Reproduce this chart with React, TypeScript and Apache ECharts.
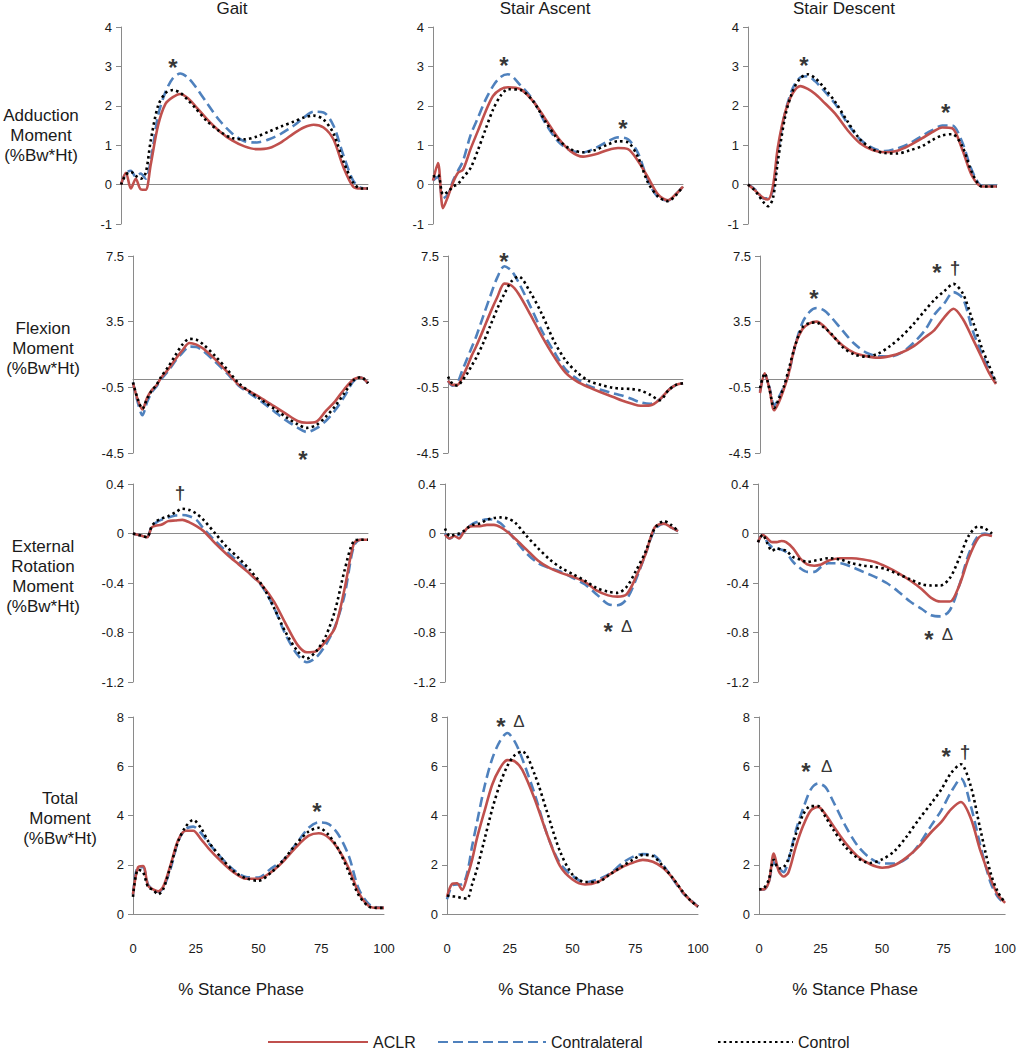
import React, { useEffect, useRef } from "react";
import * as echarts from "echarts";

// ---------- DATA ----------
const X = [0, 2, 4, 6, 8, 10, 12, 15, 18, 21, 24, 27, 30, 35, 40, 45, 50, 55, 60, 65, 70, 74, 78, 82, 86, 90, 94, 97, 100];

const TASKS = ["Gait", "Stair Ascent", "Stair Descent"];
const MOMENTS = ["Adduction\nMoment\n(%Bw*Ht)", "Flexion\nMoment\n(%Bw*Ht)", "External\nRotation\nMoment\n(%Bw*Ht)", "Total\nMoment\n(%Bw*Ht)"];
const SERIES_NAMES = ["ACLR", "Contralateral", "Control"];
const X_LABEL = "% Stance Phase";
const X_TICKS = [0, 25, 50, 75, 100];
const Y_TICKS = [
  [-1, 0, 1, 2, 3, 4],
  [-4.5, -0.5, 3.5, 7.5],
  [-1.2, -0.8, -0.4, 0, 0.4],
  [0, 2, 4, 6, 8],
];
const Y_MIN = [-1, -4.5, -1.2, 0];
const Y_MAX = [4, 7.5, 0.4, 8];

// Adduction moment
const addGaitACLR = [0, 0.3, -0.1, 0.15, -0.12, -0.13, 0.5, 1.5, 2.05, 2.22, 2.3, 2.2, 2.0, 1.65, 1.35, 1.12, 0.97, 0.9, 0.93, 1.08, 1.3, 1.45, 1.52, 1.45, 1.15, 0.45, -0.05, -0.1, -0.1];
const addGaitContra = [0, 0.3, 0.35, 0.2, 0.28, 0.15, 0.6, 1.75, 2.35, 2.7, 2.82, 2.72, 2.5, 2.05, 1.62, 1.3, 1.1, 1.07, 1.15, 1.3, 1.5, 1.7, 1.85, 1.83, 1.5, 0.75, 0.1, -0.08, -0.1];
const addGaitControl = [0, 0.25, 0.32, 0.22, 0.15, 0.3, 1.1, 2.0, 2.32, 2.4, 2.33, 2.15, 1.95, 1.6, 1.35, 1.18, 1.15, 1.22, 1.35, 1.48, 1.6, 1.7, 1.75, 1.65, 1.3, 0.6, 0.05, -0.1, -0.1];
const addAscACLR = [0.1, 0.55, -0.6, -0.3, 0.05, 0.3, 0.38, 0.9, 1.37, 1.85, 2.25, 2.42, 2.47, 2.42, 2.12, 1.66, 1.19, 0.85, 0.71, 0.77, 0.88, 0.93, 0.9, 0.6, 0.18, -0.25, -0.4, -0.25, -0.05];
const addAscContra = [0.1, 0.2, -0.35, -0.25, 0.1, 0.35, 0.6, 1.25, 1.7, 2.15, 2.5, 2.73, 2.8, 2.52, 2.15, 1.55, 1.1, 0.87, 0.82, 0.93, 1.1, 1.2, 1.15, 0.8, 0.1, -0.32, -0.4, -0.25, -0.05];
const addAscControl = [0.2, 0.25, -0.25, -0.18, -0.05, 0.02, 0.18, 0.42, 0.88, 1.4, 1.9, 2.25, 2.42, 2.4, 2.12, 1.6, 1.15, 0.9, 0.82, 0.88, 1.02, 1.1, 1.07, 0.7, 0.05, -0.3, -0.42, -0.28, -0.05];
const addDescACLR = [0, -0.1, -0.22, -0.33, -0.38, -0.05, 0.95, 1.85, 2.32, 2.5, 2.43, 2.3, 2.12, 1.8, 1.38, 1.05, 0.88, 0.82, 0.86, 1.0, 1.18, 1.33, 1.45, 1.43, 0.9, 0.22, -0.05, -0.05, -0.05];
const addDescContra = [0, -0.08, -0.2, -0.35, -0.35, -0.15, 0.85, 1.85, 2.45, 2.72, 2.75, 2.62, 2.42, 2.05, 1.55, 1.15, 0.93, 0.85, 0.92, 1.05, 1.24, 1.38, 1.5, 1.5, 1.08, 0.35, -0.03, -0.03, -0.03];
const addDescControl = [0, -0.1, -0.25, -0.43, -0.55, -0.35, 0.6, 1.75, 2.38, 2.7, 2.8, 2.7, 2.5, 2.1, 1.6, 1.15, 0.9, 0.8, 0.79, 0.87, 0.98, 1.13, 1.25, 1.28, 0.98, 0.3, -0.05, -0.05, -0.05];

// Flexion moment
const flxGaitACLR = [-0.25, -1.24, -1.85, -1.14, -0.67, -0.37, 0.08, 0.6, 1.2, 1.75, 2.2, 2.1, 1.85, 1.2, 0.45, -0.35, -0.77, -1.2, -1.65, -2.1, -2.55, -2.66, -2.6, -1.95, -1.35, -0.6, 0.0, 0.1, -0.25];
const flxGaitContra = [-0.2, -1.4, -2.2, -1.4, -0.8, -0.45, 0.0, 0.5, 1.1, 1.6, 1.98, 1.95, 1.7, 1.05, 0.35, -0.4, -0.9, -1.4, -1.95, -2.5, -2.95, -3.22, -3.0, -2.55, -1.9, -1.05, -0.1, 0.1, -0.25];
const flxGaitControl = [-0.2, -1.2, -1.8, -1.2, -0.7, -0.35, 0.15, 0.75, 1.45, 2.1, 2.45, 2.4, 2.1, 1.4, 0.6, -0.25, -0.8, -1.3, -1.8, -2.3, -2.75, -2.97, -2.8, -2.3, -1.65, -0.85, -0.05, 0.12, -0.25];
const flxAscACLR = [-0.1, -0.35, -0.35, 0.1, 0.7, 1.4, 2.0, 3.0, 4.05, 5.0, 5.82, 5.7, 5.2, 3.95, 2.6, 1.4, 0.4, -0.15, -0.5, -0.8, -1.07, -1.3, -1.48, -1.62, -1.6, -1.25, -0.65, -0.35, -0.25];
const flxAscContra = [-0.1, -0.4, -0.22, 0.5, 1.2, 1.9, 2.6, 3.84, 5.06, 6.2, 6.88, 6.6, 5.9, 4.45, 2.93, 1.7, 0.6, 0.0, -0.42, -0.65, -0.85, -1.0, -1.2, -1.42, -1.5, -1.25, -0.65, -0.35, -0.25];
const flxAscControl = [0.15, -0.3, -0.4, -0.1, 0.3, 0.8, 1.3, 2.2, 3.25, 4.3, 5.2, 5.95, 6.25, 5.3, 3.95, 2.35, 1.15, 0.4, -0.12, -0.35, -0.52, -0.58, -0.6, -0.7, -0.95, -1.28, -0.65, -0.35, -0.25];
const flxDescACLR = [-0.85, 0.35, -0.6, -1.9, -1.4, -0.65, 0.25, 2.1, 3.05, 3.4, 3.5, 3.23, 2.75, 2.05, 1.6, 1.4, 1.3, 1.4, 1.62, 2.0, 2.55, 3.0, 3.75, 4.29, 3.65, 2.5, 1.3, 0.4, -0.3];
const flxDescContra = [-0.75, 0.3, -0.5, -1.6, -1.1, -0.5, 0.25, 2.1, 3.45, 4.1, 4.33, 4.2, 3.8, 2.95, 2.15, 1.62, 1.4, 1.38, 1.62, 2.2, 3.0, 3.95, 4.6, 5.3, 4.9, 3.0, 1.55, 0.6, -0.3];
const flxDescControl = [-0.55, 0.35, -0.6, -1.75, -1.2, -0.5, 0.5, 2.1, 3.15, 3.42, 3.45, 3.15, 2.8, 1.95, 1.5, 1.37, 1.55, 2.0, 2.6, 3.35, 4.2, 4.85, 5.35, 5.8, 5.2, 3.6, 1.9, 0.85, -0.2];

// External rotation moment
const rotGaitACLR = [0, -0.01, -0.02, -0.03, 0.05, 0.065, 0.07, 0.1, 0.105, 0.11, 0.09, 0.06, 0.02, -0.08, -0.17, -0.25, -0.33, -0.42, -0.55, -0.73, -0.9, -0.96, -0.95, -0.87, -0.76, -0.45, -0.08, -0.05, -0.05];
const rotGaitContra = [0, -0.01, -0.02, -0.03, 0.06, 0.09, 0.11, 0.13, 0.145, 0.15, 0.14, 0.11, 0.04, -0.06, -0.15, -0.23, -0.33, -0.43, -0.6, -0.82, -0.98, -1.04, -1.0, -0.9, -0.75, -0.5, -0.1, -0.05, -0.05];
const rotGaitControl = [0, -0.01, -0.02, -0.03, 0.06, 0.1, 0.12, 0.14, 0.17, 0.2, 0.19, 0.16, 0.11, 0.0, -0.11, -0.2, -0.3, -0.42, -0.6, -0.8, -0.95, -1.01, -0.95, -0.83, -0.62, -0.3, -0.06, -0.05, -0.05];
const rotAscACLR = [-0.01, -0.04, -0.02, -0.04, 0.01, 0.05, 0.06, 0.06, 0.07, 0.07, 0.05, 0.01, -0.04, -0.13, -0.22, -0.28, -0.32, -0.35, -0.39, -0.46, -0.5, -0.51, -0.49, -0.35, -0.17, 0.05, 0.08, 0.05, 0.02];
const rotAscContra = [0, -0.04, -0.02, -0.01, 0.01, 0.05, 0.08, 0.1, 0.115, 0.11, 0.08, 0.02, -0.05, -0.16, -0.24, -0.28, -0.31, -0.36, -0.41, -0.49, -0.57, -0.58, -0.53, -0.37, -0.17, 0.03, 0.08, 0.05, 0.02];
const rotAscControl = [0.04, -0.02, -0.01, 0.0, 0.02, 0.05, 0.07, 0.08, 0.11, 0.125, 0.13, 0.12, 0.09, -0.02, -0.12, -0.21, -0.28, -0.33, -0.38, -0.44, -0.47, -0.48, -0.43, -0.3, -0.15, 0.04, 0.1, 0.07, 0.02];
const rotDescACLR = [-0.07, -0.01, -0.04, -0.07, -0.07, -0.06, -0.07, -0.12, -0.2, -0.25, -0.26, -0.25, -0.22, -0.2, -0.2, -0.21, -0.23, -0.27, -0.32, -0.38, -0.45, -0.52, -0.55, -0.55, -0.42, -0.2, -0.04, -0.01, -0.02];
const rotDescContra = [-0.07, -0.01, -0.07, -0.11, -0.12, -0.13, -0.15, -0.23, -0.28, -0.31, -0.31, -0.27, -0.24, -0.24, -0.27, -0.31, -0.35, -0.4, -0.47, -0.55, -0.61, -0.66, -0.67, -0.62, -0.42, -0.17, -0.02, 0.0, -0.02];
const rotDescControl = [-0.07, -0.01, -0.08, -0.14, -0.12, -0.13, -0.14, -0.19, -0.21, -0.23, -0.22, -0.21, -0.2, -0.21, -0.24, -0.26, -0.27, -0.29, -0.33, -0.37, -0.41, -0.42, -0.42, -0.36, -0.2, -0.02, 0.055, 0.04, 0.0];

// Total moment
const totGaitACLR = [0.8, 1.9, 1.95, 1.15, 1.0, 0.92, 1.1, 2.0, 3.0, 3.38, 3.38, 3.05, 2.68, 2.15, 1.7, 1.43, 1.43, 1.7, 2.15, 2.72, 3.18, 3.28, 3.1, 2.6, 1.85, 0.85, 0.32, 0.25, 0.25];
const totGaitContra = [0.8, 1.9, 1.9, 1.2, 1.0, 0.9, 1.05, 1.85, 2.95, 3.45, 3.55, 3.3, 2.9, 2.3, 1.8, 1.5, 1.48, 1.85, 2.2, 2.85, 3.5, 3.72, 3.65, 3.2, 2.35, 1.0, 0.4, 0.27, 0.25];
const totGaitControl = [0.7, 1.8, 1.7, 1.1, 0.98, 0.8, 1.0, 1.95, 2.95, 3.55, 3.82, 3.5, 2.95, 2.3, 1.75, 1.45, 1.35, 1.68, 2.2, 2.85, 3.35, 3.5, 3.2, 2.6, 1.7, 0.75, 0.3, 0.25, 0.25];
const totAscACLR = [0.7, 1.22, 1.25, 0.98, 1.5, 2.2, 3.1, 4.2, 5.25, 5.9, 6.25, 6.2, 5.85, 4.65, 3.2, 1.95, 1.4, 1.2, 1.3, 1.62, 1.92, 2.08, 2.2, 2.12, 1.88, 1.45, 0.88, 0.55, 0.3];
const totAscContra = [0.6, 1.15, 1.2, 1.2, 1.65, 2.75, 3.75, 5.2, 6.3, 7.0, 7.35, 7.0, 6.3, 4.85, 3.2, 2.06, 1.55, 1.28, 1.4, 1.65, 2.08, 2.32, 2.43, 2.4, 2.0, 1.42, 0.85, 0.58, 0.3];
const totAscControl = [0.75, 0.72, 0.7, 0.65, 0.62, 1.2, 1.85, 3.05, 4.25, 5.25, 6.0, 6.45, 6.6, 5.65, 4.1, 2.55, 1.6, 1.3, 1.3, 1.62, 1.95, 2.2, 2.4, 2.35, 1.95, 1.45, 0.9, 0.55, 0.3];
const totDescACLR = [1.0, 1.0, 1.3, 2.45, 1.75, 1.52, 1.7, 2.75, 3.6, 4.2, 4.35, 4.05, 3.6, 2.9, 2.35, 2.03, 1.88, 1.98, 2.3, 2.75, 3.33, 3.73, 4.25, 4.55, 3.9, 2.55, 1.45, 0.78, 0.45];
const totDescContra = [1.0, 1.0, 1.3, 2.1, 1.85, 1.7, 2.2, 3.4, 4.3, 5.05, 5.3, 5.15, 4.6, 3.6, 2.78, 2.28, 2.05, 2.05, 2.25, 2.82, 3.6, 4.2, 4.95, 5.5, 4.4, 2.75, 1.3, 0.7, 0.4];
const totDescControl = [1.0, 1.05, 1.4, 2.2, 1.85, 1.9, 2.25, 3.25, 4.05, 4.38, 4.38, 3.95, 3.45, 2.74, 2.28, 2.07, 2.22, 2.55, 3.15, 3.85, 4.5, 5.05, 5.72, 6.08, 5.2, 3.4, 1.7, 0.9, 0.45];

// Significance marks: [x, y, symbol]
const annAddGait = [[21, 3.1, "*"]];
const annAddAsc = [[28.4, 3.15, "*"], [76, 1.55, "*"]];
const annAddDesc = [[22.5, 3.15, "*"], [79.4, 1.95, "*"]];
const annFlxGait = [[72.3, -4.6, "*"]];
const annFlxAsc = [[23.8, 7.5, "*"]];
const annFlxDesc = [[22.9, 5.24, "*"], [75, 6.8, "*"], [82.6, 6.8, "†"]];
const annRotGait = [[20, 0.33, "†"]];
const annRotAsc = [[70, -0.75, "*"], [78, -0.75, "Δ"]];
const annRotDesc = [[73, -0.82, "*"], [81, -0.82, "Δ"]];
const annTotGait = [[73.3, 4.35, "*"]];
const annTotAsc = [[21.5, 7.8, "*"], [28.7, 7.8, "Δ"]];
const annTotDesc = [[19.1, 6.0, "*"], [27.5, 6.0, "Δ"], [76, 6.6, "*"], [83.7, 6.6, "†"]];

const PANEL_DATA = [
  [[addGaitACLR, addGaitContra, addGaitControl], [addAscACLR, addAscContra, addAscControl], [addDescACLR, addDescContra, addDescControl]],
  [[flxGaitACLR, flxGaitContra, flxGaitControl], [flxAscACLR, flxAscContra, flxAscControl], [flxDescACLR, flxDescContra, flxDescControl]],
  [[rotGaitACLR, rotGaitContra, rotGaitControl], [rotAscACLR, rotAscContra, rotAscControl], [rotDescACLR, rotDescContra, rotDescControl]],
  [[totGaitACLR, totGaitContra, totGaitControl], [totAscACLR, totAscContra, totAscControl], [totDescACLR, totDescContra, totDescControl]],
];
const PANEL_ANN = [
  [annAddGait, annAddAsc, annAddDesc],
  [annFlxGait, annFlxAsc, annFlxDesc],
  [annRotGait, annRotAsc, annRotDesc],
  [annTotGait, annTotAsc, annTotDesc],
];

// ---------- LAYOUT ----------
const ROW_TOP = [27, 256, 484, 717];
const ROW_HEIGHT = [197, 197, 198, 197];
const GRID_LEFT = [
  [121, 433, 748],
  [133, 448, 760],
  [133, 445, 758],
  [133, 447, 759],
];
const GRID_WIDTH = [
  [247, 250, 249],
  [235, 235, 236],
  [235, 233, 234],
  [251, 251, 251],
];
const TITLE_X = [232, 545, 844];
const XNAME_X = [241, 561, 855];
const ROWLABEL_POS = [
  [41, 135],
  [43, 348],
  [43, 576],
  [60, 818],
];
const LEGEND_LEFT = [262, 432, 712];
const LEGEND_ITEM_W = [100, 108, 75];

const FONT = '"Liberation Sans", Arial, Helvetica, sans-serif';
const AXIS_GRAY = "#8a8a8a";
const TEXT = "#1a1a1a";
const COLORS = ["#C0504D", "#4F81BD", "#000000"];
const LINE_STYLES: any[] = [
  { color: COLORS[0], width: 2.6, type: "solid" },
  { color: COLORS[1], width: 2.6, type: [10, 5] },
  { color: COLORS[2], width: 2.6, type: [2.5, 3.2] },
];
const DRAW_ORDER = [1, 0, 2];

function buildOption() {
  const grid: any[] = [];
  const xAxis: any[] = [];
  const yAxis: any[] = [];
  const series: any[] = [];
  let idx = 0;
  for (let r = 0; r < 4; r++) {
    for (let c = 0; c < 3; c++) {
      grid.push({ left: GRID_LEFT[r][c], top: ROW_TOP[r], width: GRID_WIDTH[r][c], height: ROW_HEIGHT[r], containLabel: false });
      xAxis.push({
        gridIndex: idx,
        type: "value",
        min: 0,
        max: 100,
        axisLine: { show: true, onZero: true, lineStyle: { color: AXIS_GRAY, width: 1 } },
        axisTick: { show: false },
        splitLine: { show: false },
        axisLabel:
          r === 3
            ? { show: true, customValues: X_TICKS, margin: 28, fontSize: 13, color: TEXT, fontFamily: FONT }
            : { show: false },
      });
      yAxis.push({
        gridIndex: idx,
        type: "value",
        min: Y_MIN[r],
        max: Y_MAX[r],
        axisLine: { show: true, onZero: false, lineStyle: { color: AXIS_GRAY, width: 1 } },
        axisTick: { show: true, length: 5, customValues: Y_TICKS[r], lineStyle: { color: AXIS_GRAY } },
        axisLabel: { show: true, customValues: Y_TICKS[r], margin: 9, fontSize: 13, color: TEXT, fontFamily: FONT },
        splitLine: { show: false },
      });
      const triple = PANEL_DATA[r][c];
      for (const s of DRAW_ORDER) {
        series.push({
          type: "line",
          name: SERIES_NAMES[s],
          xAxisIndex: idx,
          yAxisIndex: idx,
          data: X.map((x, k) => [x, triple[s][k]]),
          showSymbol: false,
          symbol: "none",
          smooth: 0.3,
          lineStyle: LINE_STYLES[s],
          itemStyle: { color: COLORS[s] },
          silent: true,
          z: 3,
        });
      }
      series.push({
        type: "scatter",
        name: "marks",
        xAxisIndex: idx,
        yAxisIndex: idx,
        clip: false,
        silent: true,
        symbolSize: 1,
        itemStyle: { color: "rgba(0,0,0,0)" },
        z: 5,
        data: PANEL_ANN[r][c].map((a: any) => ({
          value: [a[0], a[1]],
          label: {
            show: true,
            position: "inside",
            formatter: a[2],
            fontFamily: FONT,
            color: "#000",
            fontSize: a[2] === "*" ? 24 : a[2] === "†" ? 19 : 17,
            fontWeight: a[2] === "Δ" ? "normal" : "bold",
            offset: a[2] === "*" ? [0, 5] : [0, 0],
          },
        })),
      });
      idx++;
    }
  }

  const graphic: any[] = [];
  TASKS.forEach((t, c) => {
    graphic.push({
      type: "text",
      x: TITLE_X[c],
      y: 8,
      style: { text: t, fontSize: 17, fontFamily: FONT, fill: TEXT, align: "center", verticalAlign: "middle" },
    });
    graphic.push({
      type: "text",
      x: XNAME_X[c],
      y: 989,
      style: { text: X_LABEL, fontSize: 17, fontFamily: FONT, fill: TEXT, align: "center", verticalAlign: "middle" },
    });
  });
  MOMENTS.forEach((m, r) => {
    graphic.push({
      type: "text",
      x: ROWLABEL_POS[r][0],
      y: ROWLABEL_POS[r][1],
      style: { text: m, fontSize: 17, lineHeight: 20, fontFamily: FONT, fill: TEXT, align: "center", verticalAlign: "middle" },
    });
  });

  const legend = SERIES_NAMES.map((n, i) => ({
    data: [n],
    left: LEGEND_LEFT[i],
    top: 1029,
    itemWidth: LEGEND_ITEM_W[i],
    itemHeight: 10,
    selectedMode: false,
    itemStyle: { opacity: 0, borderWidth: 0 },
    textStyle: { fontSize: 16, fontFamily: FONT, color: TEXT },
  }));

  return {
    animation: false,
    backgroundColor: "#ffffff",
    grid,
    xAxis,
    yAxis,
    series,
    legend,
    graphic,
  };
}

export default function App() {
  const ref = useRef<HTMLDivElement>(null);
  useEffect(() => {
    if (!ref.current) return;
    const chart = echarts.init(ref.current, null, { renderer: "svg" });
    chart.setOption(buildOption());
    return () => {
      chart.dispose();
    };
  }, []);
  return (
    <div
      ref={ref}
      style={{ position: "absolute", left: 0, top: 0, width: 1019, height: 1050, background: "#fff" }}
    />
  );
}
